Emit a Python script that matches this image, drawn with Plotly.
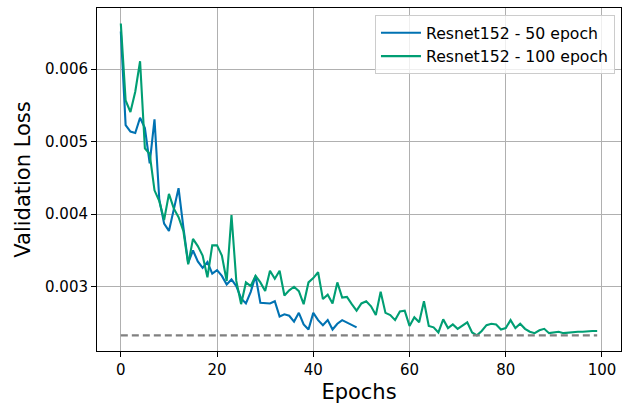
import plotly.graph_objects as go

epochs_50 = list(range(50))
epochs_100 = list(range(100))

loss_50 = [
    0.00652, 0.00523, 0.00514, 0.00512, 0.00533, 0.00519, 0.00470, 0.00531, 0.00420, 0.00387,
    0.00377, 0.00406, 0.00436, 0.00382, 0.00333, 0.00350, 0.00335, 0.00326, 0.00334, 0.00318,
    0.00323, 0.00315, 0.00303, 0.00310, 0.00301, 0.00284, 0.00277, 0.00293, 0.00315, 0.00278,
    0.00277, 0.00277, 0.00280, 0.00259, 0.00262, 0.00260, 0.00252, 0.00264, 0.00248, 0.00241,
    0.00264, 0.00254, 0.00247, 0.00254, 0.00241, 0.00249, 0.00254, 0.00251, 0.00247, 0.00244,
]

loss_100 = [
    0.00663, 0.00557, 0.00541, 0.00569, 0.00611, 0.00491, 0.00483, 0.00433, 0.00418, 0.00392,
    0.00428, 0.00408, 0.00396, 0.00377, 0.00331, 0.00366, 0.00356, 0.00343, 0.00313, 0.00357,
    0.00357, 0.00343, 0.00308, 0.00399, 0.00308, 0.00276, 0.00306, 0.00301, 0.00315, 0.00306,
    0.00294, 0.00322, 0.00311, 0.00322, 0.00288, 0.00295, 0.00300, 0.00294, 0.00276, 0.00306,
    0.00312, 0.00320, 0.00283, 0.00289, 0.00277, 0.00306, 0.00285, 0.00286, 0.00276, 0.00267,
    0.00277, 0.00280, 0.00273, 0.00261, 0.00293, 0.00264, 0.00261, 0.00254, 0.00266, 0.00267,
    0.00246, 0.00258, 0.00251, 0.00280, 0.00246, 0.00244, 0.00237, 0.00255, 0.00243, 0.00248,
    0.00242, 0.00246, 0.00251, 0.00237, 0.00233, 0.00239, 0.00247, 0.00249, 0.00248, 0.00241,
    0.00243, 0.00254, 0.00243, 0.00249, 0.00242, 0.00238, 0.00236, 0.00240, 0.00242, 0.00236,
    0.00237, 0.00238, 0.00236, 0.00237, 0.00238, 0.00238, 0.00238, 0.00239, 0.00239, 0.00239,
]

baseline_x = [0, 99]
baseline_y = [0.00233, 0.00233]

series_names = ["Resnet152 - 50 epoch", "Resnet152 - 100 epoch"]
x_ticks = [0, 20, 40, 60, 80, 100]
y_ticks = [0.003, 0.004, 0.005, 0.006]
y_tick_labels = ["0.003", "0.004", "0.005", "0.006"]

FONT = "DejaVu Sans"

fig = go.Figure()
fig.add_trace(go.Scatter(
    x=epochs_50, y=loss_50, mode="lines", name=series_names[0],
    line=dict(color="#0072B2", width=2.1),
))
fig.add_trace(go.Scatter(
    x=epochs_100, y=loss_100, mode="lines", name=series_names[1],
    line=dict(color="#009E73", width=2.1),
))
fig.add_trace(go.Scatter(
    x=baseline_x, y=baseline_y, mode="lines", showlegend=False,
    line=dict(color="#808080", width=2.1, dash="7px,4px"),
))

axis_common = dict(
    showline=True, linecolor="black", linewidth=1, mirror=True,
    showgrid=True, gridcolor="#b0b0b0", gridwidth=1,
    ticks="outside", ticklen=5, tickwidth=1, tickcolor="black",
    tickfont=dict(family=FONT, size=15, color="black"),
    zeroline=False,
)

fig.update_layout(
    width=622, height=407,
    margin=dict(l=97, r=1, t=8, b=56),
    paper_bgcolor="white", plot_bgcolor="white",
    font=dict(family=FONT, color="black"),
    xaxis=dict(
        range=[-4.95, 103.95], tickvals=x_ticks,
        title=dict(text="Epochs", font=dict(family=FONT, size=21), standoff=6),
        **axis_common,
    ),
    yaxis=dict(
        range=[0.002114, 0.006844], tickvals=y_ticks, ticktext=y_tick_labels,
        title=dict(text="Validation Loss", font=dict(family=FONT, size=21), standoff=8),
        **axis_common,
    ),
    legend=dict(
        x=0.9885, y=0.9796, xanchor="right", yanchor="top",
        bgcolor="rgba(255,255,255,0.8)", bordercolor="#cccccc", borderwidth=1,
        font=dict(family=FONT, size=15.7, color="black"),
        tracegroupgap=0, itemwidth=40,
    ),
    showlegend=True,
)

fig.write_html("out.html")
